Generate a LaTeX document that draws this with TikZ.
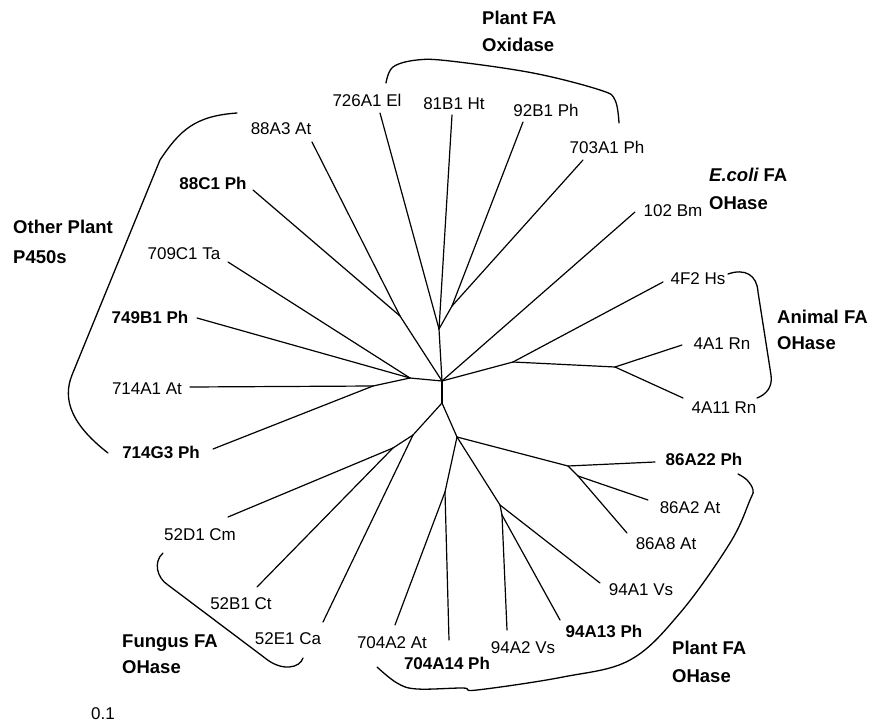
\documentclass[tikz,border=0pt]{standalone}
\usepackage{fontspec}
\setmainfont{Liberation Sans}
\begin{document}
\begin{tikzpicture}[x=1pt,y=-1pt,
  br/.style={line width=1.2pt, line cap=round, line join=round},
  bk/.style={line width=1.3pt, line cap=round},
  leaf/.style={font=\fontsize{17}{20}\selectfont, inner sep=0pt, text height=12.2pt, text depth=0pt},
  bleaf/.style={leaf, font=\fontsize{17}{20}\selectfont\bfseries},
  grp/.style={font=\fontsize{18.5}{22}\selectfont\bfseries, inner sep=0pt, anchor=west, text height=13.3pt, text depth=0pt}]
\useasboundingbox (0,0) rectangle (873,725);
% internal coordinates
\coordinate (C) at (442,381);
\coordinate (A) at (439,329);
\coordinate (B) at (452,306);
\coordinate (F) at (400,316);
\coordinate (D) at (410,378);
\coordinate (E) at (373,386);
\coordinate (G) at (513,362);
\coordinate (H) at (615,367);
\coordinate (I) at (442,403);
\coordinate (J) at (413,435);
\coordinate (L) at (393,448);
\coordinate (K) at (457,437);
\coordinate (M) at (445,492);
\coordinate (N) at (500,505);
\coordinate (Q) at (502,515);
\coordinate (O) at (568,466);
\coordinate (P) at (578,476);
% tips
\coordinate (t726) at (380,113);
\coordinate (t81) at (452,115);
\coordinate (t92) at (523,122);
\coordinate (t703) at (583,160);
\coordinate (t88A3) at (312,142);
\coordinate (t88C1) at (253,190);
\coordinate (t709) at (228,262);
\coordinate (t749) at (197,318);
\coordinate (t714A1) at (190,387);
\coordinate (t714G3) at (213,449);
\coordinate (t52D1) at (228,517);
\coordinate (t52B1) at (257,587);
\coordinate (t52E1) at (323,622);
\coordinate (t704A2) at (395,625);
\coordinate (t704A14) at (449,640);
\coordinate (t94A2) at (507,630);
\coordinate (t94A13) at (560,620);
\coordinate (t94A1) at (600,583);
\coordinate (t86A8) at (627,533);
\coordinate (t86A2) at (648,500);
\coordinate (t86A22) at (655,462);
\coordinate (t4A11) at (683,398);
\coordinate (t4A1) at (682,345);
\coordinate (t4F2) at (663,282);
\coordinate (t102) at (635,212);
% tree edges
\draw[br] (C) -- (A); \draw[br] (A) -- (t726); \draw[br] (A) -- (t81); \draw[br] (A) -- (B);
\draw[br] (B) -- (t92); \draw[br] (B) -- (t703);
\draw[br] (C) -- (F); \draw[br] (F) -- (t88A3); \draw[br] (F) -- (t88C1);
\draw[br] (C) -- (D); \draw[br] (D) -- (t709); \draw[br] (D) -- (t749); \draw[br] (D) -- (E);
\draw[br] (E) -- (t714A1); \draw[br] (E) -- (t714G3);
\draw[br] (C) -- (t102); \draw[br] (C) -- (G); \draw[br] (G) -- (t4F2); \draw[br] (G) -- (H);
\draw[br] (H) -- (t4A1); \draw[br] (H) -- (t4A11);
\draw[br] (C) -- (I); \draw[br] (I) -- (J); \draw[br] (J) -- (L); \draw[br] (L) -- (t52D1);
\draw[br] (L) -- (t52B1); \draw[br] (J) -- (t52E1);
\draw[br] (I) -- (K); \draw[br] (K) -- (M); \draw[br] (M) -- (t704A2); \draw[br] (M) -- (t704A14);
\draw[br] (K) -- (N); \draw[br] (N) -- (t94A1); \draw[br] (N) -- (Q); \draw[br] (Q) -- (t94A2);
\draw[br] (Q) -- (t94A13); \draw[br] (K) -- (O); \draw[br] (O) -- (t86A22); \draw[br] (O) -- (P);
\draw[br] (P) -- (t86A2); \draw[br] (P) -- (t86A8);
% leaf labels
\node[leaf] (l726) at (367,100) {726A1 El};
\node[leaf] (l81) at (454,103) {81B1 Ht};
\node[leaf] (l92) at (546,110) {92B1 Ph};
\node[leaf] (l703) at (607,147) {703A1 Ph};
\node[leaf] (l88A3) at (281,128) {88A3 At};
\node[bleaf] (l88C1) at (213,183) {88C1 Ph};
\node[leaf] (l709) at (184,253) {709C1 Ta};
\node[bleaf] (l749) at (150,317) {749B1 Ph};
\node[leaf] (l714A1) at (147,388) {714A1 At};
\node[bleaf] (l714G3) at (161,452) {714G3 Ph};
\node[leaf] (l52D1) at (200,534) {52D1 Cm};
\node[leaf] (l52B1) at (241,603) {52B1 Ct};
\node[leaf] (l52E1) at (288,638) {52E1 Ca};
\node[leaf] (l704A2) at (392,642) {704A2 At};
\node[bleaf] (l704A14) at (447,663) {704A14 Ph};
\node[leaf] (l94A2) at (523,647) {94A2 Vs};
\node[bleaf] (l94A13) at (604,631) {94A13 Ph};
\node[leaf] (l94A1) at (641,589) {94A1 Vs};
\node[leaf] (l86A8) at (666,543) {86A8 At};
\node[leaf] (l86A2) at (690,507) {86A2 At};
\node[bleaf] (l86A22) at (704,459) {86A22 Ph};
\node[leaf] (l4A11) at (724,407) {4A11 Rn};
\node[leaf] (l4A1) at (722,343) {4A1 Rn};
\node[leaf] (l4F2) at (698,278) {4F2 Hs};
\node[leaf] (l102) at (673,210) {102 Bm};
\node[leaf] (scale) at (103,713) {0.1};
% group labels
\node[grp] (g1a) at (482,18) {Plant FA};
\node[grp] (g1b) at (482,45) {Oxidase};
\node[grp] (g2a) at (709,175) {{\itshape E.coli} FA};
\node[grp] (g2b) at (709,203) {OHase};
\node[grp] (g3a) at (777,317) {Animal FA};
\node[grp] (g3b) at (777,343) {OHase};
\node[grp] (g4a) at (13,227) {Other Plant};
\node[grp] (g4b) at (13,257) {P450s};
\node[grp] (g5a) at (122,641) {Fungus FA};
\node[grp] (g5b) at (122,667) {OHase};
\node[grp] (g6a) at (672,648) {Plant FA};
\node[grp] (g6b) at (672,676) {OHase};
% brackets
\draw[bk] plot[smooth, tension=0.6] coordinates {(386,83) (393,67) (417,60) (450,61) (533,73) (600,90) (615,100) (619,123)};
\draw[bk] (237,113) .. controls (195,116) and (180,130) .. (160,160) -- (72,375) .. controls (62,400) and (72,425) .. (108,453);
\draw[bk] (728,274) .. controls (745,268) and (757,275) .. (758,292) -- (771,375) .. controls (773,388) and (765,395) .. (757,398);
\draw[bk] (163,553) .. controls (153,562) and (157,578) .. (168,585) -- (265,658) .. controls (282,672) and (300,668) .. (303,658);
\draw[bk] plot[smooth, tension=0.6] coordinates {(377,667) (397,683) (417,689) (463,688) (477,690) (563,677) (630,660) (680,613) (730,543) (750,500) (753,490) (747,480) (738,474)};
\end{tikzpicture}
\end{document}
